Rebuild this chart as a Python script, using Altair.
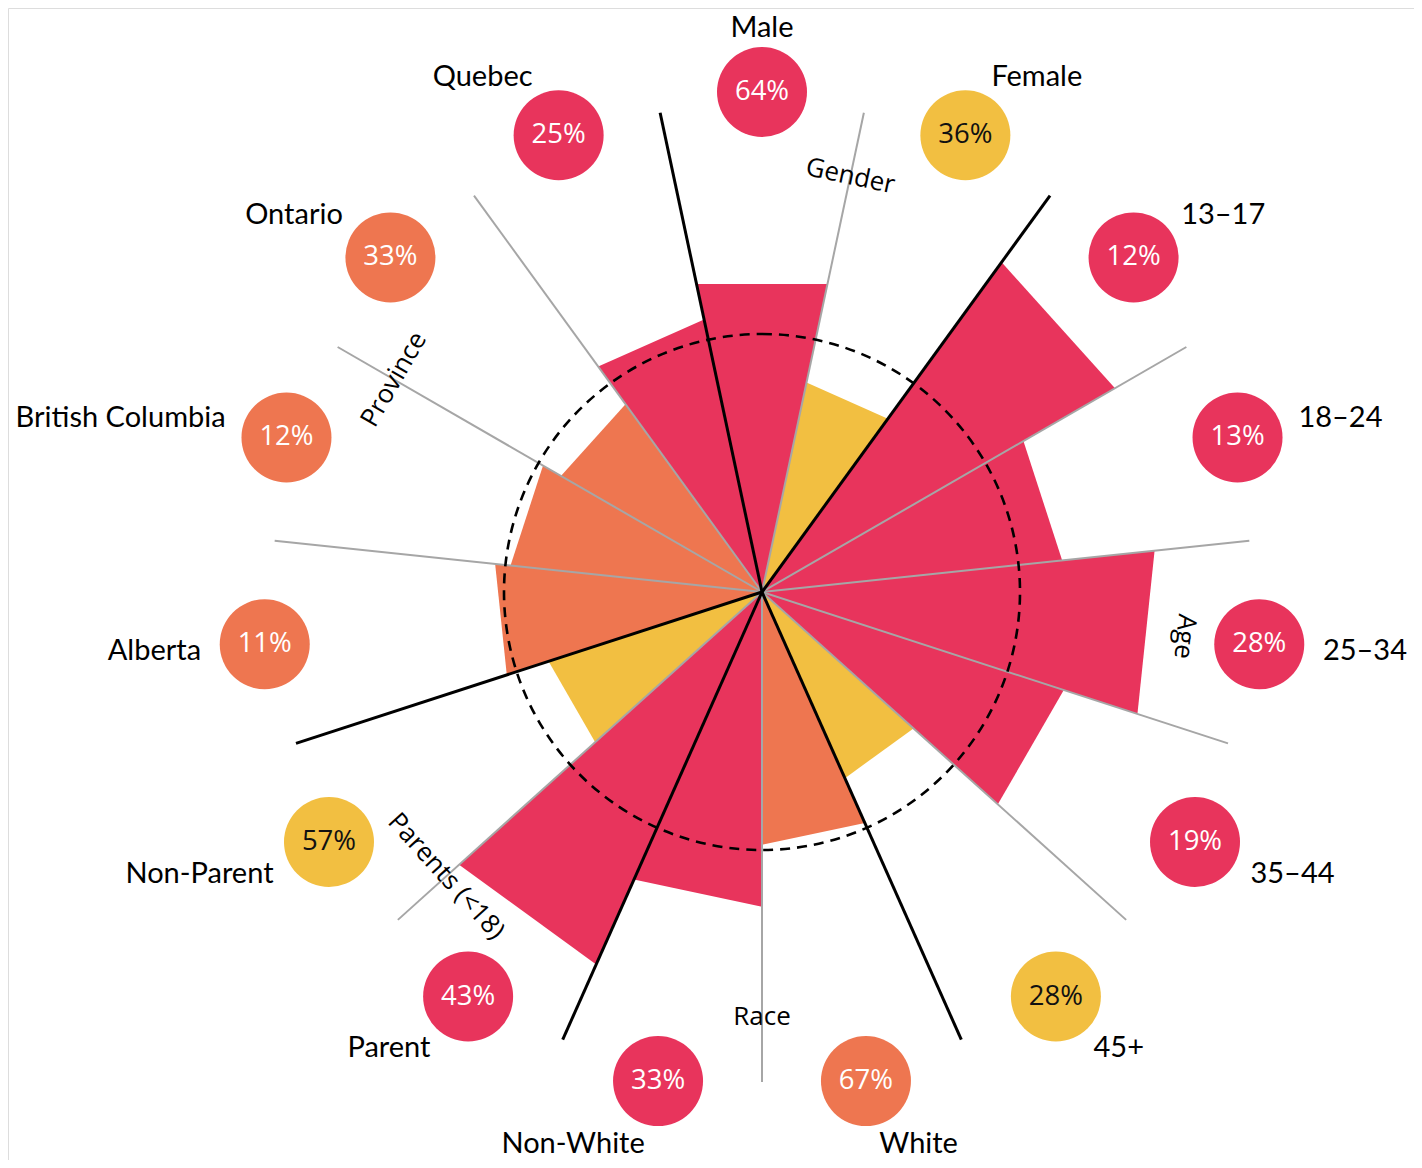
import math
import altair as alt
import pandas as pd

# ---------------- data ----------------
categories = ["Male", "Female", "13–17", "18–24", "25–34", "35–44", "45+",
              "White", "Non-White", "Parent", "Non-Parent",
              "Alberta", "British Columbia", "Ontario", "Quebec"]
groups = ["Gender", "Gender", "Age", "Age", "Age", "Age", "Age",
          "Race", "Race", "Parents (<18)", "Parents (<18)",
          "Province", "Province", "Province", "Province"]
shares = [64, 36, 12, 13, 28, 19, 28, 67, 33, 43, 57, 11, 12, 33, 25]
index_values = [122, 83, 158, 117, 153, 123, 79, 98, 122, 158, 87, 104, 98, 90, 108]
tones = ["high", "low", "high", "high", "high", "high", "low",
         "mid", "high", "high", "low", "mid", "mid", "mid", "high"]

tone_domain = ["high", "mid", "low"]
tone_colors = ["#E8345C", "#EE7650", "#F2BF41"]

# ---------------- layout constants ----------------
N = len(categories)
STEP = 360 / N          # degrees per wedge
START = -STEP / 2       # first wedge centred on the top
REF_PX = 258            # radius (px) of index 100
BAR_K = REF_PX / 100
SPOKE_R = 490
BADGE_R = 500
BADGE_SIZE = 90 ** 2
LABEL_R = 564
GROUP_R = 425

W, H = 1406, 1152
CX, CY = 754, 584
xscale = alt.Scale(domain=[-CX, W - CX], nice=False, zero=False)
yscale = alt.Scale(domain=[-(H - CY), CY], nice=False, zero=False)
tone_scale = alt.Scale(domain=tone_domain, range=tone_colors)

df = pd.DataFrame({
    "cat": categories, "group": groups, "share": shares,
    "idx": index_values, "tone": tones, "pos": list(range(N)),
})
df["first"] = [groups[i] != groups[i - 1] for i in range(N)]

tri = df.loc[df.index.repeat(3)].reset_index(drop=True)
tri["v"] = [0, 1, 2] * N

# ---------------- bars (triangular wedges) ----------------
bars = alt.Chart(tri).transform_calculate(
    ang=f"(datum.pos*{STEP} + ({START}) + (datum.v == 2 ? {STEP} : 0)) * PI / 180",
    rr=f"datum.v == 0 ? 0 : datum.idx * {BAR_K}",
).transform_calculate(
    px="datum.rr * sin(datum.ang)",
    py="datum.rr * cos(datum.ang)",
).mark_line(interpolate="linear-closed", filled=True, strokeWidth=0).encode(
    x=alt.X("px:Q", scale=xscale, axis=None),
    y=alt.Y("py:Q", scale=yscale, axis=None),
    color=alt.Color("tone:N", scale=tone_scale, legend=None),
    detail="cat:N",
    order="v:Q",
)

# ---------------- spokes ----------------
spoke_base = alt.Chart(df).transform_calculate(
    ang=f"(datum.pos*{STEP} + ({START})) * PI / 180",
    x0="0",
    y0="0",
    xe=f"{SPOKE_R} * sin(datum.ang)",
    ye=f"{SPOKE_R} * cos(datum.ang)",
)
spoke_enc = dict(
    x=alt.X("x0:Q", scale=xscale, axis=None),
    y=alt.Y("y0:Q", scale=yscale, axis=None),
    x2="xe:Q",
    y2="ye:Q",
)
grey_spokes = spoke_base.transform_filter("!datum.first").mark_rule(
    color="#A6A6A6", strokeWidth=2).encode(**spoke_enc)
black_spokes = spoke_base.transform_filter("datum.first").mark_rule(
    color="#000000", strokeWidth=3).encode(**spoke_enc)

# ---------------- reference circle (index 100) ----------------
ref = alt.Chart(pd.DataFrame({"ref": [100]})).transform_calculate(
    cx="0", cy="0"
).mark_arc(filled=False, stroke="#000000", strokeWidth=2.6, strokeDash=[10, 7],
           theta=0, theta2=2 * math.pi).encode(
    x=alt.X("cx:Q", scale=xscale, axis=None),
    y=alt.Y("cy:Q", scale=yscale, axis=None),
    radius=alt.Radius("ref:Q", scale=alt.Scale(type="linear", domain=[0, 100], range=[0, REF_PX])),
)

# ---------------- badges and labels ----------------
lab_base = alt.Chart(df).transform_calculate(
    deg=f"datum.pos*{STEP}",
    ang=f"datum.pos*{STEP} * PI / 180",
    bx=f"{BADGE_R} * sin(datum.ang)",
    by=f"{BADGE_R} * cos(datum.ang)",
    lx=f"{LABEL_R} * sin(datum.ang)",
    ly=f"{LABEL_R} * cos(datum.ang)",
    pct="datum.share + '%'",
)

badges = lab_base.mark_circle(size=BADGE_SIZE, opacity=1).encode(
    x=alt.X("bx:Q", scale=xscale, axis=None),
    y=alt.Y("by:Q", scale=yscale, axis=None),
    color=alt.Color("tone:N", scale=tone_scale, legend=None),
)
pct_text = lab_base.mark_text(font="Open Sans", fontSize=27.5, baseline="middle", align="center").encode(
    x=alt.X("bx:Q", scale=xscale, axis=None),
    y=alt.Y("by:Q", scale=yscale, axis=None),
    text="pct:N",
    color=alt.condition("datum.tone == 'low'", alt.value("#111111"), alt.value("#FFFFFF")),
)

label_enc = dict(
    x=alt.X("lx:Q", scale=xscale, axis=None),
    y=alt.Y("ly:Q", scale=yscale, axis=None),
    text="cat:N",
)
LAB_FONT = dict(font="Lato", fontSize=29, baseline="middle", color="#000000")
labels_center = lab_base.transform_filter("datum.deg == 0 || datum.deg == 180").mark_text(
    align="center", **LAB_FONT).encode(**label_enc)
labels_right = lab_base.transform_filter("datum.deg > 0 && datum.deg < 180").mark_text(
    align="left", **LAB_FONT).encode(**label_enc)
labels_left = lab_base.transform_filter("datum.deg > 180").mark_text(
    align="right", **LAB_FONT).encode(**label_enc)

# ---------------- group labels ----------------
group_labels = alt.Chart(df).transform_aggregate(
    mpos="mean(pos)", groupby=["group"]
).transform_calculate(
    deg=f"datum.mpos*{STEP}",
    ang=f"datum.mpos*{STEP} * PI / 180",
    gx=f"{GROUP_R} * sin(datum.ang)",
    gy=f"{GROUP_R} * cos(datum.ang)",
    rot="(datum.deg > 100 && datum.deg < 260) ? datum.deg - 180 : datum.deg",
).mark_text(font="Open Sans", fontSize=26, baseline="middle", align="center", color="#000000").encode(
    x=alt.X("gx:Q", scale=xscale, axis=None),
    y=alt.Y("gy:Q", scale=yscale, axis=None),
    text="group:N",
    angle=alt.Angle("rot:Q", scale=None),
)

chart = alt.layer(
    bars, grey_spokes, black_spokes, ref, badges, pct_text,
    labels_center, labels_right, labels_left, group_labels,
).properties(
    width=W, height=H, padding=0,
    autosize=alt.AutoSizeParams(type="none"),
).configure_view(stroke="transparent", strokeWidth=0).configure(background="transparent")

chart.save("out.html", embed_options={"renderer": "svg", "actions": False})
